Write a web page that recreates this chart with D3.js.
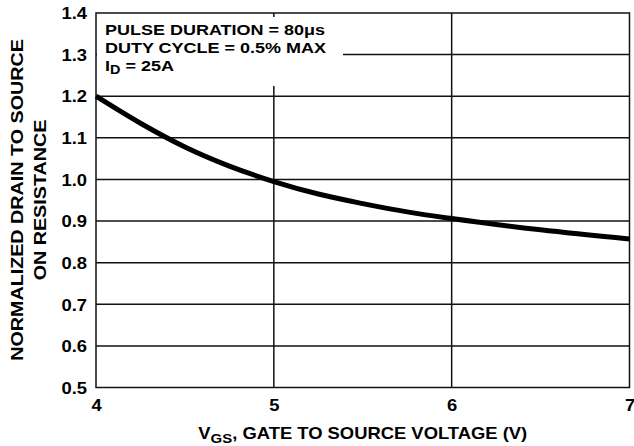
<!DOCTYPE html>
<html lang="en">
<head>
<meta charset="UTF-8">
<title>Normalized on resistance vs VGS</title>
<style>
  body { margin: 0; background: #fff; }
  text { font-family: "Liberation Sans", Arial, sans-serif; font-weight: bold; fill: #000; }
</style>
</head>
<body>
<script src="https://d3js.org/d3.v7.min.js"></script>
<script>
// data
var vgs  = [4, 4.25, 4.5, 4.75, 5, 5.25, 5.5, 5.75, 6, 6.5, 7];
var rdson = [1.2, 1.135, 1.078, 1.032, 0.995, 0.965, 0.942, 0.922, 0.906, 0.879, 0.857];
var xTicks = [4, 5, 6, 7];
var yTicks = [0.5, 0.6, 0.7, 0.8, 0.9, 1.0, 1.1, 1.2, 1.3, 1.4];
var notes = ["PULSE DURATION = 80\u03BCs", "DUTY CYCLE = 0.5% MAX"];

var width = 634, height = 446;
var pLeft = 96, pRight = 629.5, pTop = 13, pBottom = 387.5;
var sx = 1.15; // reference text is a bit wider than Liberation Sans

var svg = d3.select("body").append("svg")
  .attr("width", width).attr("height", height);

var x = d3.scaleLinear().domain([4, 7]).range([pLeft, pRight]);
var y = d3.scaleLinear().domain([0.5, 1.4]).range([pBottom, pTop]);

// grid lines
svg.selectAll(".gx").data(xTicks.slice(1, -1)).enter().append("line")
  .attr("x1", d => x(d)).attr("x2", d => x(d))
  .attr("y1", pTop).attr("y2", pBottom)
  .attr("stroke", "#111").attr("stroke-width", 1.5);
svg.selectAll(".gy").data(yTicks.slice(1, -1)).enter().append("line")
  .attr("x1", pLeft).attr("x2", pRight)
  .attr("y1", d => y(d)).attr("y2", d => y(d))
  .attr("stroke", "#111").attr("stroke-width", 1.5);

// white box behind the test conditions
svg.append("rect").attr("x", pLeft + 1).attr("y", 17)
  .attr("width", 246).attr("height", 69).attr("fill", "#fff");

// frame
svg.append("rect").attr("x", pLeft).attr("y", pTop)
  .attr("width", pRight - pLeft).attr("height", pBottom - pTop)
  .attr("fill", "none").attr("stroke", "#111").attr("stroke-width", 1.5);

// curve
var line = d3.line().x(d => x(d[0])).y(d => y(d[1])).curve(d3.curveMonotoneX);
svg.append("path").datum(d3.zip(vgs, rdson))
  .attr("d", line).attr("fill", "none")
  .attr("stroke", "#000").attr("stroke-width", 5);

// axes (labels only)
var yAxis = svg.append("g").attr("transform", "translate(" + (pLeft - 9) + ",0)")
  .call(d3.axisLeft(y).tickValues(yTicks).tickFormat(d3.format(".1f")).tickSize(0).tickPadding(0));
var xAxis = svg.append("g").attr("transform", "translate(0," + (pBottom + 18) + ")")
  .call(d3.axisBottom(x).tickValues(xTicks).tickFormat(d3.format("d")).tickSize(0).tickPadding(0));
[yAxis, xAxis].forEach(function(g) {
  g.select(".domain").remove();
  g.selectAll("text").attr("font-size", 16)
    .attr("font-family", "'Liberation Sans', Arial, sans-serif").attr("font-weight", "bold")
    .attr("fill", "#000").attr("y", 0).attr("x", 0)
    .attr("transform", "scale(" + sx + ",1)").attr("dy", "0.36em");
});

// test conditions
notes.forEach(function(t, i) {
  svg.append("text").attr("transform", "translate(105," + (35 + i * 18) + ") scale(1.2,1)")
    .attr("font-size", 15).text(t);
});
var id = svg.append("text").attr("transform", "translate(105,71) scale(1.2,1)")
  .attr("font-size", 15);
id.append("tspan").text("I");
id.append("tspan").attr("font-size", 12).attr("dy", 3).text("D");
id.append("tspan").attr("dy", -3).text(" = 25A");

// axis titles
var xt = svg.append("text")
  .attr("transform", "translate(" + ((pLeft + pRight) / 2) + ",439) scale(" + sx + ",1)")
  .attr("text-anchor", "middle").attr("font-size", 16);
xt.append("tspan").text("V");
xt.append("tspan").attr("font-size", 13).attr("dy", 4).text("GS");
xt.append("tspan").attr("dy", -4).text(", GATE TO SOURCE VOLTAGE (V)");

svg.append("text").attr("transform", "translate(23,200) rotate(-90) scale(1.16,1)")
  .attr("text-anchor", "middle").attr("font-size", 17).text("NORMALIZED DRAIN TO SOURCE");
svg.append("text").attr("transform", "translate(46,200) rotate(-90) scale(1.16,1)")
  .attr("text-anchor", "middle").attr("font-size", 17).text("ON RESISTANCE");
</script>
</body>
</html>
